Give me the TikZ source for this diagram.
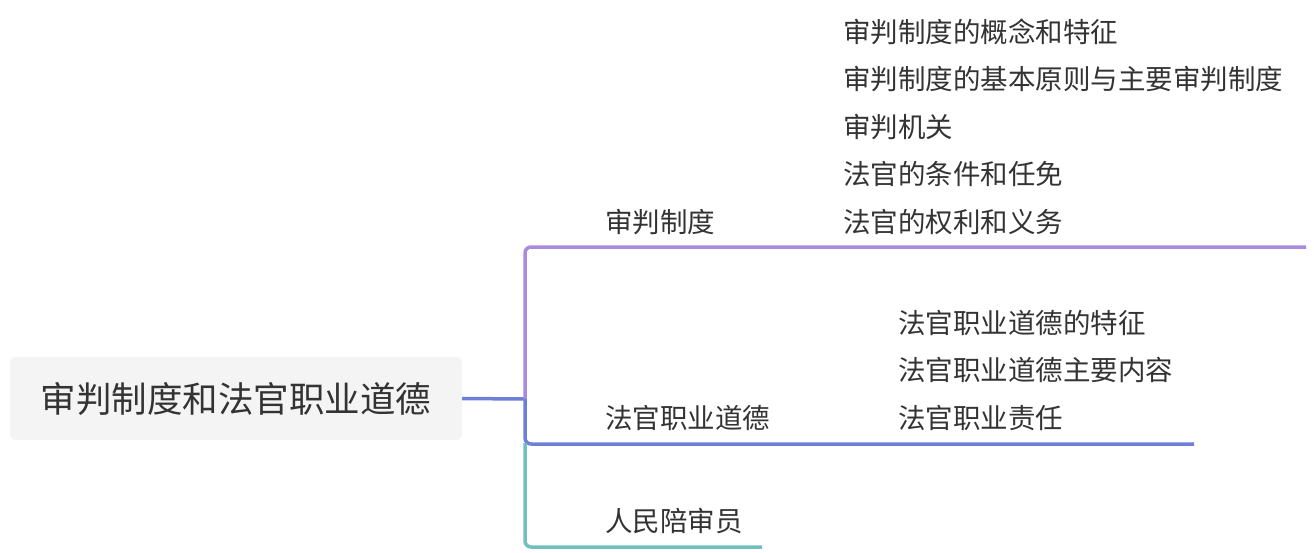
\documentclass[tikz,border=0pt]{standalone}
\usepackage{fontspec}
\setmainfont{Noto Sans CJK SC}
\definecolor{cpur}{HTML}{A98BDD}
\definecolor{cblu}{HTML}{6E7FD9}
\definecolor{ctea}{HTML}{72BFBF}
\definecolor{ctxt}{HTML}{333333}
\definecolor{cbox}{HTML}{F4F4F4}
\begin{document}
\begin{tikzpicture}[x=1pt,y=-1pt,
  leaf/.style={anchor=west,font=\fontsize{27.5}{30}\selectfont,text=ctxt,inner sep=0pt},
  br/.style={line width=3.5pt,rounded corners=6pt}]
\useasboundingbox (0,0) rectangle (1314,552);
\node[fill=cbox,rounded corners=6pt,minimum width=452pt,minimum height=83pt,text=ctxt,font=\fontsize{35.5}{38}\selectfont] (root) at (236,398.5) {审判制度和法官职业道德};
\coordinate (j) at (525,399);
\coordinate (e1) at (1306,247);
\coordinate (e2) at (1194,444);
\coordinate (e3) at (762,547);
\draw[cblu,line width=3.5pt] (root.east) -- (j);
\draw[br,cpur] (j) |- (e1);
\draw[br,cblu] (j) |- (e2);
\draw[br,ctea] (525,443) |- (e3);
\node[leaf] (b1) at (605,222) {审判制度};
\node[leaf] (b2) at (605,418) {法官职业道德};
\node[leaf] (b3) at (605,521) {人民陪审员};
\node[leaf] (a1) at (843,32) {审判制度的概念和特征};
\node[leaf] (a2) at (843,79) {审判制度的基本原则与主要审判制度};
\node[leaf] (a3) at (843,127) {审判机关};
\node[leaf] (a4) at (843,174) {法官的条件和任免};
\node[leaf] (a5) at (843,222) {法官的权利和义务};
\node[leaf] (c1) at (898,323) {法官职业道德的特征};
\node[leaf] (c2) at (898,370) {法官职业道德主要内容};
\node[leaf] (c3) at (898,418) {法官职业责任};
\end{tikzpicture}
\end{document}
